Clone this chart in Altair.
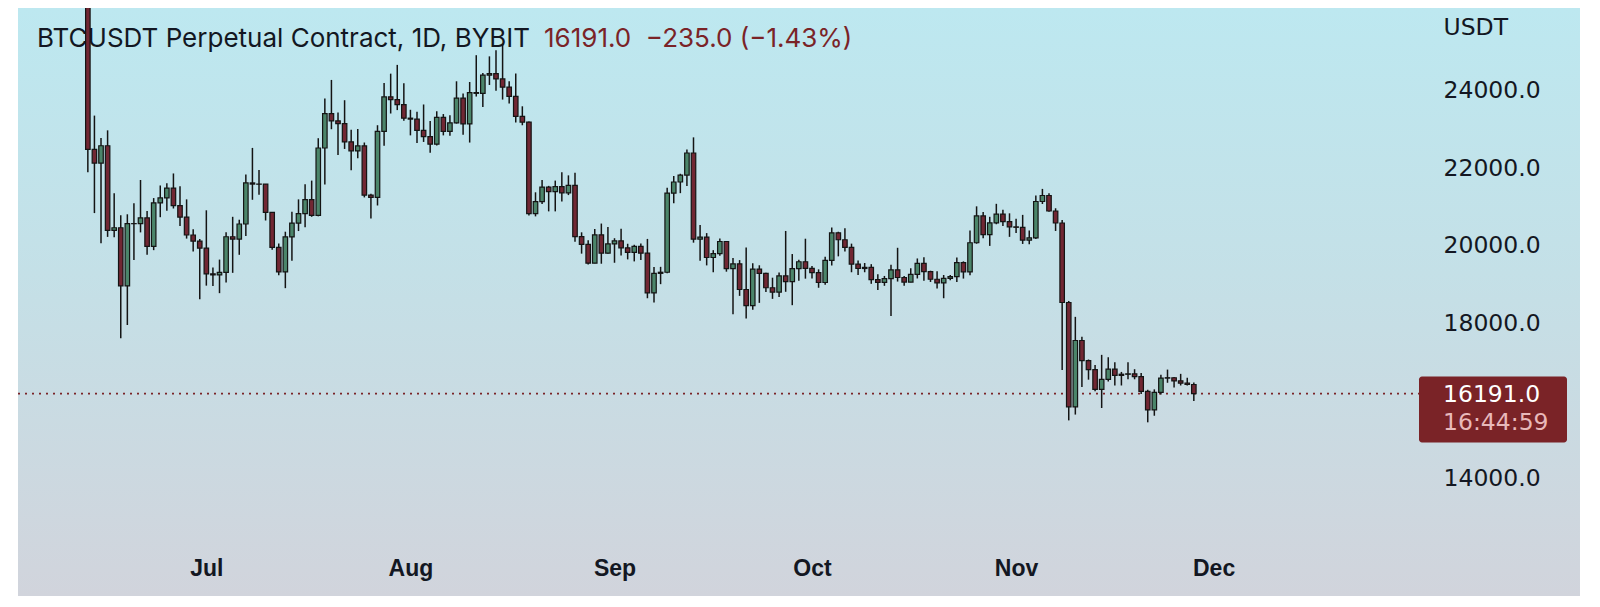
import altair as alt
import pandas as pd
import numpy as np

# ---------------- data (BTCUSDT perpetual, daily, 2022-06-13 .. 2022-11-28) ----------------
start_date = "2022-06-13"
opens = [
    26574, 22487, 22136, 22583, 20401, 20468, 18970, 20574, 20573, 20723, 19987, 21110, 21237, 21491, 21038, 20742, 20281, 20124,
    19942, 19279, 19252, 19315, 20236, 20175, 20564, 21624, 21594, 21591, 20862, 19963, 19328, 20234, 20588, 20830, 21195, 20785,
    22525, 23410, 23223, 23152, 22684, 22451, 22579, 21310, 21252, 22952, 23843, 23774, 23644,
    23294, 23269, 22978, 22820, 22622, 23312, 22954, 23175, 23810, 23149, 23954, 23935, 24403, 24441, 24305, 24094, 23854, 23342,
    23191, 20834, 21140, 21516, 21399, 21529, 21368, 21559, 20241, 20037, 19555, 20285, 19811,
    20050, 20131, 19951, 19832, 19986, 19812, 18790, 19292, 19320, 21361, 21648, 21826, 22395, 20173, 20227, 19701, 19803, 20113,
    19416, 19537, 18875, 18461, 19401, 19289, 18920, 18807, 19227, 19079, 19412, 19591,
    19422, 19310, 19056, 19629, 20337, 20158, 19960, 19531, 19417, 19446, 19131, 19060, 19156, 19382, 19185, 19068, 19268, 19550,
    19334, 19140, 19046, 19164, 19205, 19571, 19330, 20081, 20772, 20290, 20595, 20817, 20627,
    20490, 20480, 20150, 20207, 21145, 21300, 20900, 20590, 18540, 15850, 17560, 17040, 16810, 16300, 16560, 16820, 16660, 16690,
    16700, 16630, 16250, 15770, 16220, 16590, 16600, 16520, 16460, 16426,
]
highs = [
    26900, 23360, 22780, 22980, 21360, 20792, 20815, 21100, 21700, 20900, 21233, 21558, 21614, 21868, 21539, 21200, 20432, 20179,
    20918, 19443, 19647, 20354, 20750, 20675, 21838, 22527, 21954, 21591, 20868, 20059, 20366, 20880, 21200, 21588, 21684, 22777,
    23800, 24280, 23442, 23757, 22998, 23014, 22666, 21347, 23112, 24199, 24442, 24668, 24194,
    23510, 23459, 23647, 23223, 23475, 23400, 23369, 24245, 23933, 24226, 24918, 24456, 24888, 25047, 25212, 24247, 24446,
    23600, 23208, 21382, 21700, 21548, 21684, 21900, 21819, 21886, 20350, 20148, 20433, 20576, 20490,
    20198, 20445, 20055, 20029, 20059, 20180, 19455, 19460, 21500, 21800, 21860, 22488, 22799, 20540, 20330, 19890, 20189, 20117,
    19688, 19634, 19956, 19550, 19500, 19310, 19180, 19315, 20385, 19790, 19645, 20185,
    19484, 19395, 19719, 20475, 20365, 20456, 20058, 19621, 19559, 19529, 19268, 19225, 19515, 19951, 19226, 19425, 19676, 19706,
    19360, 19345, 19250, 19250, 19700, 19601, 20400, 21020, 20875, 20750, 21085, 20930, 20840,
    20700, 20800, 20400, 21300, 21470, 21360, 20970, 20670, 18580, 18170, 17660, 17070, 16930, 17190, 17130, 17000, 16750, 17000,
    16820, 16720, 16290, 16300, 16680, 16810, 16620, 16700, 16600, 16480,
]
lows = [
    21900, 20846, 20070, 20232, 20220, 17620, 17960, 19636, 20348, 19770, 19890, 20740, 20906, 20964, 20510, 20188, 19854, 18626,
    18975, 18966, 18781, 19055, 19305, 19770, 20257, 21189, 21319, 20655, 19901, 19240, 18910, 19616, 20383, 20478, 20750, 20763,
    21581, 23009, 22341, 22500, 21950, 22257, 21250, 20706, 21042, 22582, 23414, 23502, 23227,
    22850, 22655, 22681, 22400, 22586, 22850, 22842, 23154, 22865, 22665, 23852, 23580, 24150, 24000, 23773, 23671, 23180,
    23111, 20783, 20761, 21080, 20890, 20890, 21145, 21310, 20107, 19800, 19520, 19550, 19540, 19800,
    19565, 19754, 19652, 19600, 19633, 18650, 18540, 19013, 19297, 21100, 21360, 21543, 20083, 19617, 19497, 19320, 19748, 19335,
    18235, 18711, 18125, 18356, 18531, 18814, 18634, 18680, 18816, 18471, 19103, 19155,
    19160, 18920, 19000, 19492, 19730, 19853, 19320, 19250, 19320, 19022, 18860, 18970, 18190, 19080, 18975, 19063, 19160, 19100,
    19070, 18900, 18650, 19114, 19070, 19157, 19245, 20056, 20200, 20000, 20558, 20513, 20233,
    20330, 20050, 20040, 20180, 21080, 20880, 20385, 16800, 15500, 15650, 16360, 16550, 16250, 15820, 16500, 16400, 16400, 16560,
    16560, 16180, 15450, 15620, 16170, 16470, 16350, 16400, 16400, 16000,
]
closes = [
    22487, 22136, 22583, 20401, 20468, 18970, 20574, 20573, 20723, 19987, 21110, 21237, 21491, 21038, 20742, 20281, 20124, 19942,
    19279, 19252, 19315, 20236, 20175, 20564, 21624, 21594, 21591, 20862, 19963, 19328, 20234, 20588, 20830, 21195, 20785, 22525,
    23410, 23223, 23152, 22684, 22451, 22579, 21310, 21252, 22952, 23843, 23774, 23644, 23294,
    23269, 22978, 22820, 22622, 23312, 22954, 23175, 23810, 23149, 23954, 23935, 24403, 24441, 24305, 24094, 23854, 23342,
    23191, 20834, 21140, 21516, 21399, 21529, 21368, 21559, 20241, 20037, 19555, 20285, 19811, 20050,
    20131, 19951, 19832, 19986, 19812, 18790, 19292, 19320, 21361, 21648, 21826, 22395, 20173, 20227, 19701, 19803, 20113, 19416,
    19537, 18875, 18461, 19401, 19289, 18920, 18807, 19227, 19079, 19412, 19591, 19422,
    19310, 19056, 19629, 20337, 20158, 19960, 19531, 19417, 19446, 19131, 19060, 19156, 19382, 19185, 19068, 19268, 19550, 19334,
    19140, 19046, 19164, 19205, 19571, 19330, 20081, 20772, 20290, 20595, 20817, 20627, 20490,
    20480, 20150, 20207, 21145, 21300, 20900, 20590, 18540, 15850, 17560, 17040, 16810, 16300, 16560, 16820, 16660, 16690, 16700,
    16630, 16250, 15770, 16220, 16590, 16600, 16520, 16460, 16426, 16191,
]
y_ticks = [14000, 18000, 20000, 22000, 24000]   # 16000 sits under the price tag
month_ticks = ["2022-07-01", "2022-08-01", "2022-09-01", "2022-10-01", "2022-11-01", "2022-12-01"]
title_main = "BTCUSDT Perpetual Contract, 1D, BYBIT"
countdown = "16:44:59"
y_unit = "USDT"

# ---------------- derived table ----------------
def ms(t):
    return int(pd.Timestamp(t).value // 10**6)

dates = pd.date_range(start_date, periods=len(opens), freq="D")
df = pd.DataFrame({
    "t": [ms(d) for d in dates],
    "open": opens, "high": highs, "low": lows, "close": closes,
})
df["dir"] = np.where(df["close"] >= df["open"], "up", "down")

last = closes[-1]
chg = closes[-1] - closes[-2]
pct = chg / closes[-2] * 100
minus = "\u2212"
nbsp = "\u00a0"
price_text = (f"{last:.1f}{nbsp} {minus if chg < 0 else '+'}{abs(chg):.1f} "
              f"({minus if pct < 0 else '+'}{abs(pct):.2f}%)")

tag = pd.DataFrame({"p": [last], "label": [f"{last:.1f}"], "cd": [countdown]})

# ---------------- layout ----------------
W, H = 1562, 588
DAY = 86400000
jul1 = ms("2022-07-01")
x_dom = [jul1 - 27.85 * DAY, jul1 + 207.9 * DAY]
y_dom = [10971, 26135]

xs = alt.Scale(type="utc", domain=x_dom, nice=False)
ys = alt.Scale(domain=y_dom, zero=False, nice=False)

x_axis = alt.Axis(orient="bottom", offset=-28, values=[ms(m) for m in month_ticks],
                  labelExpr="utcFormat(datum.value, '%b')", labelFont="Liberation Sans",
                  labelFontWeight="bold", labelFontSize=23, labelColor="#131722",
                  labelBaseline="middle", labelAlign="center", labelPadding=0, ticks=False, tickSize=0,
                  domain=False, grid=False, title=None, labelFlush=False, labelOverlap=False, zindex=1)
y_axis = alt.Axis(orient="right", offset=-137, values=y_ticks, format=".1f",
                  labelFont="DejaVu Sans", labelFontSize=23.5, labelColor="#131722",
                  labelAlign="left", labelBaseline="middle", labelPadding=0, ticks=False, tickSize=0,
                  domain=False, grid=False, labelFlush=False, labelOverlap=False,
                  title=y_unit, titleAngle=0, titleX=0, titleY=19.5, titleAlign="left",
                  titleBaseline="middle", titleFont="DejaVu Sans", titleFontSize=23.5,
                  titleFontWeight="normal", titleColor="#131722", zindex=1)

RED = "#7a2327"
bg_grad = alt.LinearGradient(
    gradient="linear", x1=0, x2=0, y1=0, y2=1,
    stops=[alt.GradientStop(color="#bde8f0", offset=0),
           alt.GradientStop(color="#c4e0e7", offset=0.45),
           alt.GradientStop(color="#d1d4dc", offset=1)],
)

one = pd.DataFrame({"a": [0]})
bg = alt.Chart(one).mark_rect(color=bg_grad).encode(
    x=alt.value(0), x2=alt.value(W), y=alt.value(0), y2=alt.value(H))

title1 = alt.Chart(pd.DataFrame({"s": [title_main]})).mark_text(
    align="left", baseline="middle", font="Inter", fontSize=26, color="#131722"
).encode(x=alt.value(19), y=alt.value(31), text="s:N")
title2 = alt.Chart(pd.DataFrame({"s": [price_text]})).mark_text(
    align="left", baseline="middle", font="Inter", fontSize=26, color=RED
).encode(x=alt.value(526), y=alt.value(31), text="s:N")

base = alt.Chart(df)
wicks = base.mark_rule(color="#141414", strokeWidth=1.5, clip=True).encode(
    x=alt.X("t:T", scale=xs, axis=x_axis),
    y=alt.Y("low:Q", scale=ys, axis=y_axis),
    y2="high:Q",
)
bodies = base.mark_bar(size=4.5, stroke="#141414", strokeWidth=1.2, clip=True).encode(
    x=alt.X("t:T", scale=xs, axis=x_axis),
    y=alt.Y("open:Q", scale=ys, axis=y_axis),
    y2="close:Q",
    color=alt.Color("dir:N", scale=alt.Scale(domain=["up", "down"], range=["#4b856a", "#712733"]), legend=None),
)

tagbase = alt.Chart(tag)
dotted = tagbase.mark_rule(color=RED, strokeDash=[2, 5], strokeWidth=1.6).encode(
    x=alt.value(0), x2=alt.value(1401), y=alt.Y("p:Q", scale=ys, axis=y_axis))
tag_rect = tagbase.mark_rect(color=RED, cornerRadius=3, yOffset=-17, y2Offset=49).encode(
    x=alt.value(1401), x2=alt.value(1549),
    y=alt.Y("p:Q", scale=ys, axis=y_axis), y2="p:Q")
tag_t1 = tagbase.mark_text(align="left", baseline="middle", dy=1.5, font="DejaVu Sans",
                           fontSize=23.5, color="#ffffff").encode(
    x=alt.value(1425), y=alt.Y("p:Q", scale=ys, axis=y_axis), text="label:N")
tag_t2 = tagbase.mark_text(align="left", baseline="middle", dy=29.7, font="DejaVu Sans",
                           fontSize=23.5, color="#e8b9ba").encode(
    x=alt.value(1425), y=alt.Y("p:Q", scale=ys, axis=y_axis), text="cd:N")

chart = alt.layer(bg, title1, title2, dotted, wicks, bodies, tag_rect, tag_t1, tag_t2).properties(
    width=W, height=H,
    autosize=alt.AutoSizeParams(type="none"),
    padding={"left": 10, "top": 0, "right": 12, "bottom": 0},
    background="#ffffff",
).configure_view(strokeWidth=0)

chart.save("out.html", embed_options={"renderer": "svg", "actions": False})
